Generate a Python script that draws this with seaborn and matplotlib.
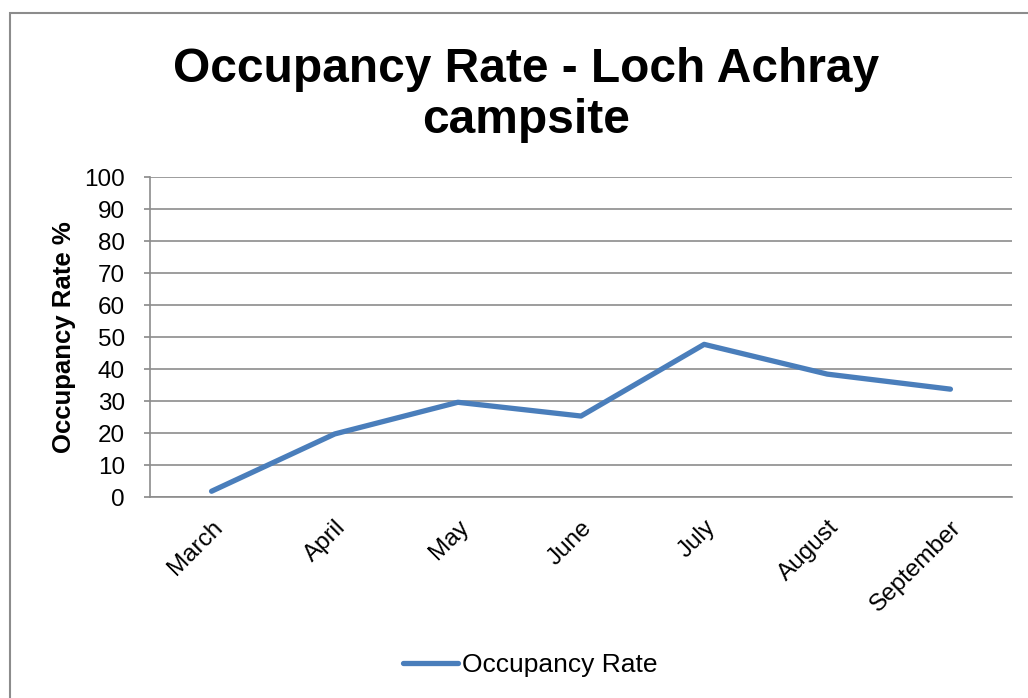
import pandas as pd
import matplotlib
matplotlib.use("Agg")
from matplotlib import pyplot as plt
from matplotlib.patches import Rectangle
import seaborn as sns

months = ['March', 'April', 'May', 'June', 'July', 'August', 'September']
occupancy = [1.8, 19.7, 29.6, 25.3, 47.7, 38.4, 33.7]

df = pd.DataFrame({'Month': months, 'Occupancy Rate': occupancy})

sns.set_theme(style='white')
plt.rcParams['font.family'] = ['Liberation Sans', 'DejaVu Sans']
plt.rcParams['text.color'] = 'black'
plt.rcParams['xtick.color'] = 'black'
plt.rcParams['ytick.color'] = 'black'
plt.rcParams['axes.labelcolor'] = 'black'

fig = plt.figure(figsize=(10.28, 6.98), dpi=100)
ax = fig.add_axes([150 / 1028, 1 - 497 / 698, 862 / 1028, 320 / 698])

sns.lineplot(data=df, x='Month', y='Occupancy Rate', ax=ax, color='#4A7EBB',
             linewidth=3.8, sort=False, label='Occupancy Rate', solid_capstyle='round')

ax.set_xlim(-0.5, 6.5)
ax.set_ylim(0, 100)
ax.set_yticks(range(0, 101, 10))
ax.yaxis.grid(True, color='#8c8c8c', linewidth=1.2)
ax.set_axisbelow(True)
for side in ['top', 'right']:
    ax.spines[side].set_visible(False)
for side in ['left', 'bottom']:
    ax.spines[side].set_color('#8c8c8c')
    ax.spines[side].set_linewidth(1.2)
ax.tick_params(axis='y', left=True, length=4, color='#8c8c8c', labelsize=17.5, pad=14)
ax.tick_params(axis='x', bottom=False, labelsize=17.5, pad=8)
plt.setp(ax.get_xticklabels(), rotation=45, ha='right', va='top', rotation_mode='anchor')
ax.set_xlabel('')
ax.set_ylabel('Occupancy Rate %', fontsize=18.5, fontweight='bold', labelpad=6)

fig.suptitle('Occupancy Rate - Loch Achray\ncampsite', fontsize=34.5, fontweight='bold',
             x=526 / 1028, y=1 - 47 / 698, va='top', linespacing=1.18)

ax.legend(loc='center', bbox_to_anchor=(530 / 1028, 1 - 665 / 698),
          bbox_transform=fig.transFigure, frameon=False, fontsize=19,
          handlelength=2.1, handletextpad=0.15)

fig.patches.append(Rectangle((10 / 1028, -0.05), 1.1, 1 - 13 / 698 + 0.05,
                             transform=fig.transFigure, fill=False,
                             edgecolor='#8c8c8c', linewidth=1.5))

fig.savefig('out.png', dpi=100)
